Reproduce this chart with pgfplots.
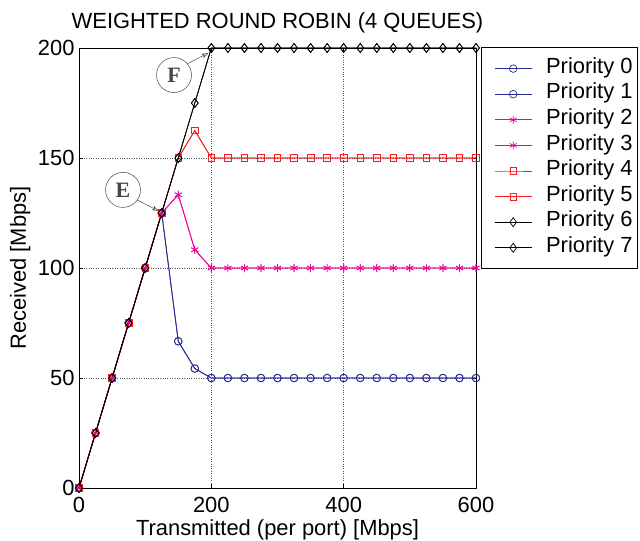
\documentclass[border=0pt]{standalone}
\usepackage{pgfplots}
\pgfplotsset{compat=1.18}
\usepackage{fontspec}
\setmainfont{Liberation Sans}
\newfontfamily\serifbold{Liberation Serif}
\usetikzlibrary{arrows.meta}
\definecolor{pblue}{RGB}{40,40,150}
\definecolor{pmag}{RGB}{240,0,150}
\definecolor{pred}{RGB}{250,30,30}
\definecolor{agrey}{RGB}{70,70,70}
\pgfplotstableread{
x y
0 0
25 25
50 50
75 75
100 100
125 125
150 66.7
175 54.3
200 50
225 50
250 50
275 50
300 50
325 50
350 50
375 50
400 50
425 50
450 50
475 50
500 50
525 50
550 50
575 50
600 50
}\pzero
\pgfplotstableread{
x y
0 0
25 25
50 50
75 75
100 100
125 125
150 133.3
175 108.3
200 100
225 100
250 100
275 100
300 100
325 100
350 100
375 100
400 100
425 100
450 100
475 100
500 100
525 100
550 100
575 100
600 100
}\ptwo
\pgfplotstableread{
x y
0 0
25 25
50 50
75 75
100 100
125 125
150 150
175 162.5
200 150
225 150
250 150
275 150
300 150
325 150
350 150
375 150
400 150
425 150
450 150
475 150
500 150
525 150
550 150
575 150
600 150
}\pfour
\pgfplotstableread{
x y
0 0
25 25
50 50
75 75
100 100
125 125
150 150
175 175
200 200
225 200
250 200
275 200
300 200
325 200
350 200
375 200
400 200
425 200
450 200
475 200
500 200
525 200
550 200
575 200
600 200
}\psix
\begin{document}
\begin{tikzpicture}[x=1bp,y=1bp]
\begin{axis}[
  width=397bp, height=440bp, scale only axis,
  xmin=0, xmax=600, ymin=0, ymax=200,
  xtick={0,200,400,600}, ytick={0,50,100,150,200},
  tick align=inside,
  major tick length=4bp,
  grid=major,
  grid style={dotted, black!65, line width=0.6pt},
  axis line style={line width=0.6pt},
  every tick/.style={black, line width=0.6pt},
  /pgf/number format/assume math mode=true,
  ticklabel style={font=\fontsize{22}{24}\selectfont},
  xticklabel style={inner sep=1bp, yshift=-8bp},
  yticklabel style={inner sep=1bp, xshift=-3.3bp},
  xlabel={Transmitted (per port) [Mbps]},
  ylabel={Received [Mbps]},
  label style={font=\fontsize{22}{24}\selectfont},
  xlabel style={at={(rel axis cs:0.5,0)}, anchor=base, yshift=-47bp, inner sep=0pt},
  ylabel style={yshift=3bp},
  title={WEIGHTED ROUND ROBIN (4 QUEUES)},
  title style={font=\fontsize{22}{24}\selectfont, yshift=5bp},
  legend style={at={(rel axis cs:1,1)}, xshift=5bp, yshift=0.5bp, anchor=north west,
    font=\fontsize{22}{24}\selectfont, draw=black, line width=0.6pt,
    inner xsep=5bp, inner ysep=8bp, row sep=0pt,
    nodes={inner sep=0pt, text height=17.5bp, text depth=8.1bp}},
  legend cell align=left,
  legend image code/.code={%
    \path (0bp,0bp) (59bp,0bp);
    \draw[mark repeat=2, mark phase=2] plot coordinates {(8bp,0bp) (26.5bp,0bp) (45bp,0bp)};},
  every axis plot/.append style={line width=0.8pt},
  clip=false,
]
\addplot[pblue, mark=o, mark size=3.8bp, mark options={line width=0.7pt}] table {\pzero};
\addlegendentry{Priority 0}
\addplot[pblue, mark=o, mark size=3.8bp, mark options={line width=0.7pt}] table {\pzero};
\addlegendentry{Priority 1}
\addplot[pmag, mark=asterisk, mark size=4bp, mark options={line width=0.7pt}] table {\ptwo};
\addlegendentry{Priority 2}
\addplot[pmag, mark=asterisk, mark size=4bp, mark options={line width=0.7pt}] table {\ptwo};
\addlegendentry{Priority 3}
\addplot[pred, mark=square, mark size=3.3bp, mark options={line width=0.7pt}] table {\pfour};
\addlegendentry{Priority 4}
\addplot[pred, mark=square, mark size=3.3bp, mark options={line width=0.7pt}] table {\pfour};
\addlegendentry{Priority 5}
\addplot[black, mark=diamond, mark size=4.5bp, mark options={line width=0.7pt}] table {\psix};
\addlegendentry{Priority 6}
\addplot[black, mark=diamond, mark size=4.5bp, mark options={line width=0.7pt}] table {\psix};
\addlegendentry{Priority 7}
\node[circle, draw=agrey, line width=0.5pt, minimum size=35bp, inner sep=0pt,
  text=agrey, font=\serifbold\bfseries\fontsize{22}{22}\selectfont] (E) at (axis cs:66.5,135.5) {E};
\node[circle, draw=agrey, line width=0.5pt, minimum size=35bp, inner sep=0pt,
  text=agrey, font=\serifbold\bfseries\fontsize{22}{22}\selectfont] (F) at (axis cs:143.6,187.7) {F};
\draw[agrey, line width=0.5pt, -{Stealth[open, length=7bp, width=5bp]}] (E.-35) -- ([xshift=-3bp, yshift=2bp]axis cs:125,125);
\draw[agrey, line width=0.5pt, -{Stealth[open, length=7bp, width=5bp]}] (F.40) -- ([xshift=-3bp, yshift=-5bp]axis cs:200,200);
\coordinate (ll) at (rel axis cs:0,0);
\coordinate (ur) at (rel axis cs:1,1);
\end{axis}
\pgfresetboundingbox
\path ([xshift=-79bp,yshift=-52bp]ll) rectangle ([xshift=164bp,yshift=48bp]ur);
\end{tikzpicture}
\end{document}
